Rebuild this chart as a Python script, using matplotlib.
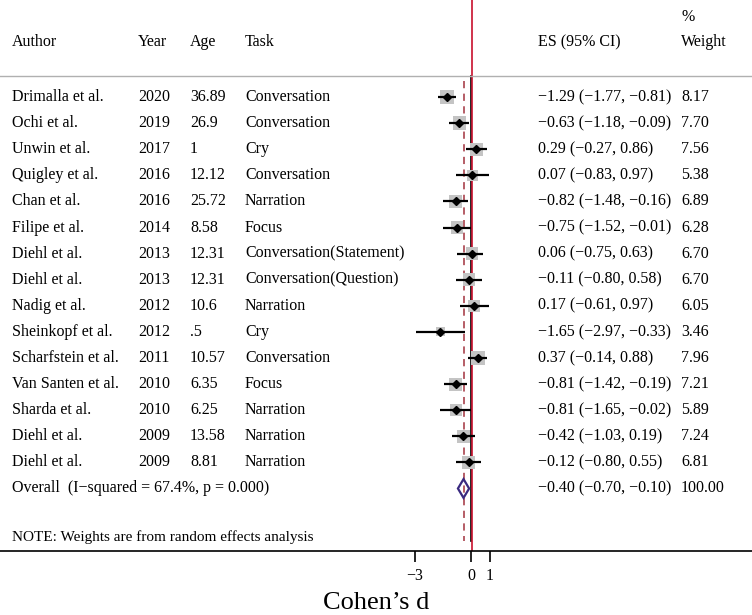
import numpy as np
import matplotlib
matplotlib.use("Agg")
import matplotlib.pyplot as plt
from matplotlib.patches import Polygon

plt.rcParams['font.family'] = ['Liberation Serif', 'DejaVu Serif']

# study data
authors = ['Drimalla et al.', 'Ochi et al.', 'Unwin et al.', 'Quigley et al.',
           'Chan et al.', 'Filipe et al.', 'Diehl et al.', 'Diehl et al.',
           'Nadig et al.', 'Sheinkopf et al.', 'Scharfstein et al.',
           'Van Santen et al.', 'Sharda et al.', 'Diehl et al.', 'Diehl et al.']
years = ['2020', '2019', '2017', '2016', '2016', '2014', '2013', '2013',
         '2012', '2012', '2011', '2010', '2010', '2009', '2009']
ages = ['36.89', '26.9', '1', '12.12', '25.72', '8.58', '12.31', '12.31',
        '10.6', '.5', '10.57', '6.35', '6.25', '13.58', '8.81']
tasks = ['Conversation', 'Conversation', 'Cry', 'Conversation', 'Narration',
         'Focus', 'Conversation(Statement)', 'Conversation(Question)',
         'Narration', 'Cry', 'Conversation', 'Focus', 'Narration',
         'Narration', 'Narration']
es = [-1.29, -0.63, 0.29, 0.07, -0.82, -0.75, 0.06, -0.11, 0.17, -1.65,
      0.37, -0.81, -0.81, -0.42, -0.12]
lo = [-1.77, -1.18, -0.27, -0.83, -1.48, -1.52, -0.75, -0.80, -0.61, -2.97,
      -0.14, -1.42, -1.65, -1.03, -0.80]
hi = [-0.81, -0.09, 0.86, 0.97, -0.16, -0.01, 0.63, 0.58, 0.97, -0.33,
      0.88, -0.19, -0.02, 0.19, 0.55]
weights = [8.17, 7.70, 7.56, 5.38, 6.89, 6.28, 6.70, 6.70, 6.05, 3.46,
           7.96, 7.21, 5.89, 7.24, 6.81]

overall_es, overall_lo, overall_hi = -0.40, -0.70, -0.10
overall_label = 'Overall  (I\u2212squared = 67.4%, p = 0.000)'
note = 'NOTE: Weights are from random effects analysis'


def fmt(v):
    return f'{v:.2f}'.replace('-', '\u2212')


W, H = 752, 615
fig = plt.figure(figsize=(W / 100, H / 100), dpi=100)
axis_px = 551
ax = fig.add_axes([0, (H - axis_px) / H, 1, axis_px / H])

# x: 0 at pixel 471, 18.67 px per unit
x0, ppu = 471, 18.67
ax.set_xlim(-x0 / ppu, (W - x0) / ppu)
# y: rows, row 0 at pixel 97, 26.1 px per row
y0, ppr = 97, 26.1
ax.set_ylim((axis_px - y0) / ppr, -y0 / ppr)

for s in ['top', 'left', 'right']:
    ax.spines[s].set_visible(False)
ax.spines['bottom'].set_linewidth(1.2)
ax.set_yticks([])
ax.set_xticks([-3, 0, 1])
ax.tick_params(axis='x', length=8, width=1.2, labelsize=11.5, pad=4)
ax.set_xlabel('Cohen\u2019s d', fontsize=19, labelpad=6)

tr = ax.get_yaxis_transform()  # x in axes fraction, y in data


def col(px):
    return px / W


fs = 11.5
n = len(authors)
rows = np.arange(n)
es_x, wt_x = 538, 681

# header
hdr_y = -2.1
for label, px in [('Author', 12), ('Year', 138), ('Age', 190), ('Task', 245),
                  ('ES (95% CI)', es_x), ('Weight', wt_x)]:
    ax.text(col(px), hdr_y, label, transform=tr, fontsize=fs, va='center')
ax.text(col(wt_x), -3.07, '%', transform=tr, fontsize=fs, va='center')
ax.axhline(-0.8, color='#b0b0b0', lw=1.0)

# reference lines
ax.plot([0, 0], [-0.8, rows[-1] + 3], color='black', lw=1.2, zorder=1)
ax.axvline(0.06, color='#c8102e', lw=1.2, zorder=1)
ax.plot([overall_es, overall_es], [-0.62, rows[-1] + 3], color='#b0505a',
        lw=1.3, ls=(0, (4, 3)), zorder=1)

# study rows
for i in rows:
    ax.text(col(12), i, authors[i], transform=tr, fontsize=fs, va='center')
    ax.text(col(138), i, years[i], transform=tr, fontsize=fs, va='center')
    ax.text(col(190), i, ages[i], transform=tr, fontsize=fs, va='center')
    ax.text(col(245), i, tasks[i], transform=tr, fontsize=fs, va='center')
    ax.text(col(es_x), i, f'{fmt(es[i])} ({fmt(lo[i])}, {fmt(hi[i])})',
            transform=tr, fontsize=fs, va='center')
    ax.text(col(wt_x), i, f'{weights[i]:.2f}', transform=tr, fontsize=fs,
            va='center')

ax.scatter(es, rows, s=np.array(weights) * 12, marker='s', color='#c4c4c4',
           zorder=2, linewidths=0)
ax.hlines(rows, lo, hi, color='black', lw=1.6, zorder=3)
ax.plot(es, rows, 'D', color='black', markersize=3.8, zorder=4)

# overall
oy = n
diamond = Polygon([[overall_lo, oy], [overall_es, oy - 0.36],
                   [overall_hi, oy], [overall_es, oy + 0.36]],
                  closed=True, fill=False, edgecolor='#3a2a80', lw=1.6,
                  zorder=4)
ax.add_patch(diamond)
ax.text(col(12), oy, overall_label, transform=tr, fontsize=fs, va='center')
ax.text(col(es_x), oy,
        f'{fmt(overall_es)} ({fmt(overall_lo)}, {fmt(overall_hi)})',
        transform=tr, fontsize=fs, va='center')
ax.text(col(wt_x), oy, '100.00', transform=tr, fontsize=fs, va='center')

ax.text(col(12), (537 - y0) / ppr, note, transform=tr, fontsize=fs - 0.5,
        va='center')

fig.savefig('out.png', dpi=100, facecolor='white')
